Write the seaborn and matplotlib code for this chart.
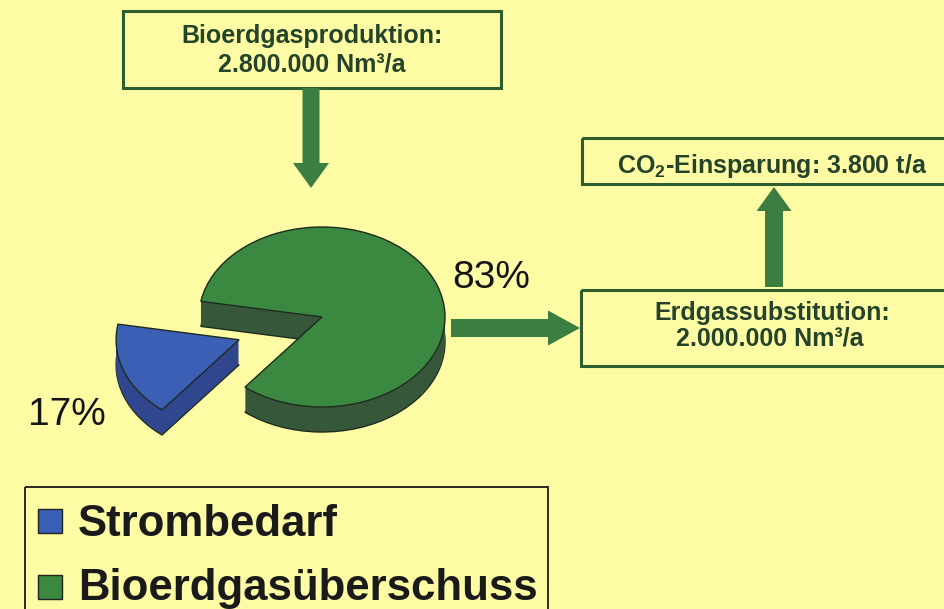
import matplotlib.pyplot as plt
from matplotlib.patches import FancyArrow, Rectangle
import seaborn as sns

# ---------------- data ----------------
labels = ['Strombedarf', 'Bioerdgasüberschuss']
shares = [17, 83]
explode = [0.72, 0.0]
top_colors = ['#3C5FB6', '#3B8840']
side_colors = ['#30468E', '#36573A']

box_prod = ['Bioerdgasproduktion:', '2.800.000 Nm³/a']
box_subst = ['Erdgassubstitution:', '2.000.000 Nm³/a']
box_co2 = [r'CO$_\mathbf{2}$-Einsparung: 3.800 t/a']

# ---------------- style ----------------
BG = '#FDFBA3'
ARROW = '#3C7E41'
BOXEDGE = '#2C5E30'
TXT = '#24432A'
OUTLINE = '#1d2b1e'

sns.set_theme(style='white')
plt.rcParams['font.family'] = ['Liberation Sans', 'DejaVu Sans']
plt.rcParams['mathtext.fontset'] = 'custom'
plt.rcParams['mathtext.rm'] = 'Liberation Sans'
plt.rcParams['mathtext.bf'] = 'Liberation Sans:bold'

W, H = 945, 609
fig = plt.figure(figsize=(W / 100, H / 100), dpi=100)
fig.patch.set_facecolor(BG)

# ---------------- pseudo 3D pie ----------------
# ellipse centre / radii in pixels
cx, cy, rx, ry = 322, 317, 123, 90
depth = 25

pax = fig.add_axes([0, 0, 1, 1])
pax.set_facecolor('none')
for k in range(depth, 0, -1):
    pax.pie(shares, colors=side_colors, startangle=170, explode=explode,
            center=(0, -k / ry), radius=1.0,
            wedgeprops=dict(linewidth=1.0 if k == depth else 0, edgecolor=OUTLINE))
pax.pie(shares, colors=top_colors, startangle=170, explode=explode,
        center=(0, 0), radius=1.0,
        wedgeprops=dict(linewidth=1.0, edgecolor=OUTLINE))
pax.set_aspect('auto')
pax.set_xlim(-cx / rx, (W - cx) / rx)
pax.set_ylim((cy - H) / ry, cy / ry)
pax.axis('off')

# ---------------- overlay (pixel coords) ----------------
ax = fig.add_axes([0, 0, 1, 1])
ax.set_facecolor('none')
ax.set_xlim(0, W)
ax.set_ylim(H, 0)
ax.axis('off')

# boxes
ax.add_patch(Rectangle((123, 11), 378, 77, fill=False, ec=BOXEDGE, lw=2.2))
ax.add_patch(Rectangle((582, 138), 420, 46, fill=False, ec=BOXEDGE, lw=2.2))
ax.add_patch(Rectangle((581, 290), 420, 76, fill=False, ec=BOXEDGE, lw=2.2))

kw = dict(ha='center', va='baseline', fontsize=18, fontweight='bold', color=TXT)
ax.text(312, 43, box_prod[0], **kw)
ax.text(312, 71, box_prod[1], **kw)
ax.text(772, 320, box_subst[0], **kw)
ax.text(770, 346, box_subst[1], **kw)
ax.text(772, 173, box_co2[0], **kw)

# arrows
akw = dict(length_includes_head=True, color=ARROW, lw=0)
ax.add_patch(FancyArrow(311, 88, 0, 100, width=17, head_width=36, head_length=25, **akw))
ax.add_patch(FancyArrow(451, 328, 129, 0, width=18, head_width=35, head_length=32, **akw))
ax.add_patch(FancyArrow(774, 287, 0, -100, width=18, head_width=35, head_length=24, **akw))

# percentages
ax.text(452, 288, f'{shares[1]}%', fontsize=28, va='baseline', color='#151515')
ax.text(28, 425, f'{shares[0]}%', fontsize=28, va='baseline', color='#151515')

# legend box
ax.add_patch(Rectangle((25, 487), 523, 200, fill=False, ec='#1a1a1a', lw=1.3))
for lab, col, ysq, ybase in zip(labels, top_colors, [509, 575], [536, 600]):
    ax.add_patch(Rectangle((38, ysq), 24, 24, fc=col, ec='#222222', lw=1.0))
    ax.text(78, ybase, lab, fontsize=31.5, fontweight='bold', va='baseline', color='#1a1a1a')

fig.savefig('out.png', dpi=100, facecolor=BG)
